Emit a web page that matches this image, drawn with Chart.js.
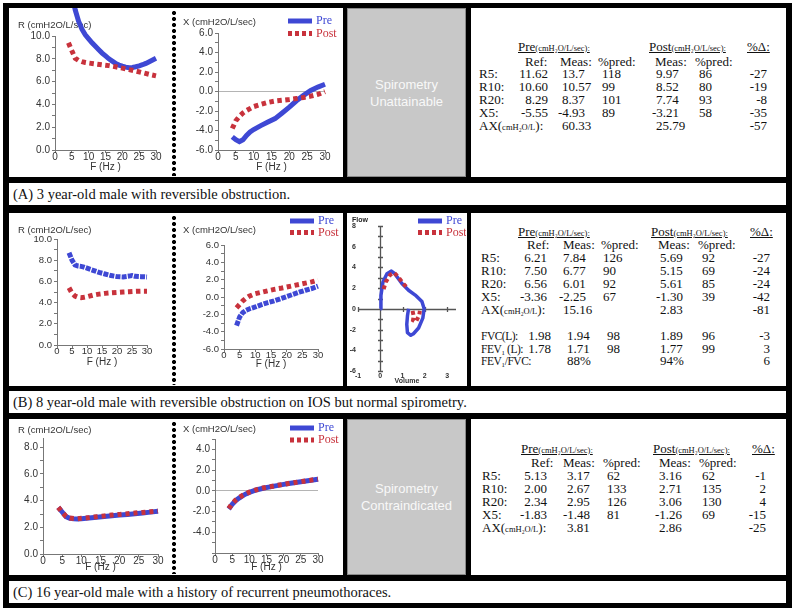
<!DOCTYPE html>
<html><head><meta charset="utf-8">
<script src="https://cdn.jsdelivr.net/npm/chart.js@4.4.1/dist/chart.umd.min.js"></script>
<style>
html,body{margin:0;padding:0;background:#fff;}
#root{position:relative;width:795px;height:614px;overflow:hidden;background:#fff;}
.bx{position:absolute;}
.blk{background:#000;}
.wh{background:#fff;}
.gray{background:#c8c8c8;box-shadow:inset 0 0 0 1px #8a8a8a;color:#f8f8f8;font-family:"Liberation Sans",Arial,sans-serif;font-size:13px;display:flex;align-items:center;justify-content:center;text-align:center;line-height:17px;}
.dots{position:absolute;width:6px;background-image:radial-gradient(circle at 3px 3px,#000 1.8px,rgba(0,0,0,0) 2.3px);background-size:6px 6px;background-repeat:repeat-y;}
canvas{position:absolute;}
.cap{position:absolute;font-family:"Liberation Serif",serif;font-size:14.5px;color:#111;white-space:nowrap;padding-left:4px;box-sizing:border-box;}
.tt{position:absolute;font-family:"Liberation Serif",serif;font-size:13px;color:#111;white-space:nowrap;line-height:14px;height:14px;}
.nar{font-size:11.5px;letter-spacing:-0.5px;}
.sm{font-size:8.5px;}
.u{text-decoration:underline;}
</style></head>
<body><div id="root"></div>
<script>
// ---------------- DATA ----------------
// Panel A (3 year-old)
const A_R_pre_F = [5,6,7,8,9,10,11,12,13,14,15,16,17,18,19,20,21,22,23,24,25,26,27,28,29,30];
const A_R_pre   = [13.7,12.3,11.3,10.6,10.1,9.75,9.4,9.1,8.8,8.5,8.25,8.0,7.8,7.6,7.45,7.35,7.27,7.22,7.24,7.3,7.38,7.48,7.6,7.75,7.9,8.05];
const A_R_post_F = [4,5,6,7,8,9,10,12,14,16,18,20,22,24,26,28,30];
const A_R_post   = [9.4,8.7,8.05,7.85,7.75,7.68,7.63,7.55,7.47,7.4,7.3,7.18,7.05,6.92,6.78,6.63,6.5];
const A_X_pre_F = [4,5,6,7,8,9,10,12,14,16,18,20,22,24,26,28,30];
const A_X_pre   = [-4.65,-4.95,-5.15,-4.95,-4.5,-4.15,-3.9,-3.5,-3.13,-2.78,-2.2,-1.6,-0.95,-0.4,0.1,0.45,0.74];
const A_X_post_F = [4,5,6,7,8,10,12,14,16,18,20,22,24,26,28,30];
const A_X_post   = [-3.8,-3.0,-2.55,-2.2,-1.95,-1.55,-1.33,-1.12,-0.98,-0.9,-0.82,-0.72,-0.62,-0.48,-0.3,-0.02];
// Panel B (8 year-old)
const B_R_pre_F = [4,5,6,7,8,9,10,12,14,16,18,20,22,24,25,26,28,30];
const B_R_pre   = [8.7,8.0,7.55,7.45,7.42,7.35,7.25,7.05,6.85,6.7,6.55,6.45,6.42,6.5,6.55,6.48,6.45,6.42];
const B_R_post_F = [4,5,6,7,8,9,10,12,14,16,18,20,22,24,26,28,30];
const B_R_post   = [5.4,4.9,4.62,4.5,4.47,4.5,4.55,4.7,4.8,4.87,4.92,4.96,5.0,5.03,5.06,5.08,5.08];
const B_X_pre_F = [4,5,6,7,8,10,12,14,16,18,20,22,24,26,28,30];
const B_X_pre   = [-3.3,-2.3,-1.8,-1.55,-1.38,-1.15,-0.88,-0.65,-0.45,-0.2,0.05,0.3,0.55,0.78,0.98,1.25];
const B_X_post_F = [4,5,6,7,8,10,12,14,16,18,20,22,24,26,28,30];
const B_X_post   = [-1.25,-0.85,-0.45,-0.15,0.08,0.38,0.55,0.72,0.88,1.0,1.15,1.3,1.45,1.6,1.75,1.95];
// Flow-volume loop (panel B)
const FV_pre_vol  = [0,0.03,0.12,0.3,0.5,0.65,0.97,1.27,1.57,1.87,1.97,1.91,1.72,1.49,1.37,1.22,1.19,1.22,1.27];
const FV_pre_flow = [0,1.3,2.6,3.4,3.65,3.4,2.45,1.8,1.33,0.7,0,-0.9,-1.85,-2.4,-2.55,-2.3,-1.5,-0.7,0];
const FV_post_exp_vol  = [0.15,0.25,0.45,0.62,0.8,1.05,1.2];
const FV_post_exp_flow = [1.9,2.6,3.3,3.5,3.1,2.4,2.05];
const FV_post_insp_vol  = [1.45,1.5,1.47,1.6,1.75,1.78];
const FV_post_insp_flow = [-0.2,-0.7,-1.1,-1.25,-0.6,-0.2];
// Panel C (16 year-old)
const C_F = [4,5,6,7,8,9,10,12,14,16,18,20,22,24,26,28,30];
const C_R_pre  = [3.5,3.15,2.8,2.68,2.64,2.63,2.65,2.7,2.76,2.82,2.87,2.92,2.97,3.02,3.08,3.14,3.2];
const C_R_post = [3.5,3.14,2.82,2.7,2.66,2.65,2.68,2.73,2.8,2.86,2.92,2.97,3.02,3.07,3.12,3.17,3.22];
const C_X_pre  = [-1.75,-1.3,-0.95,-0.7,-0.48,-0.3,-0.15,0.08,0.25,0.38,0.5,0.62,0.73,0.83,0.92,1.02,1.12];
const C_X_post = [-1.7,-1.25,-0.9,-0.65,-0.45,-0.28,-0.13,0.1,0.27,0.4,0.52,0.63,0.74,0.84,0.93,1.03,1.13];
// Tick values
const F_TICKS = [0,5,10,15,20,25,30];
const R_TICKS = [0,1,2,3,4,5,6,7,8,9,10];
const X_TICKS = [-6,-5,-4,-3,-2,-1,0,1,2,3,4,5,6];
const C_R_TICKS = [0,1,2,3,4,5,6,7,8];
const C_X_TICKS = [-6,-5,-4,-3,-2,-1,0,1,2,3,4,5];
const VOL_TICKS = [-1,0,1,2,3];
const FLOW_TICKS = [-6,-4,-2,0,2,4,6,8];
// Tables
const TABLE_A = [
  ['R5:','11.62','13.7','118','9.97','86','-27'],
  ['R10:','10.60','10.57','99','8.52','80','-19'],
  ['R20:','8.29','8.37','101','7.74','93','-8'],
  ['X5:','-5.55','-4.93','89','-3.21','58','-35'],
  ['AX','','60.33','','25.79','','-57']
];
const TABLE_B = [
  ['R5:','6.21','7.84','126','5.69','92','-27'],
  ['R10:','7.50','6.77','90','5.15','69','-24'],
  ['R20:','6.56','6.01','92','5.61','85','-24'],
  ['X5:','-3.36','-2.25','67','-1.30','39','-42'],
  ['AX','','15.16','','2.83','','-81'],
  ['FVC(L):','1.98','1.94','98','1.89','96','-3'],
  ['FEV₁ (L):','1.78','1.71','98','1.77','99','3'],
  ['FEV₁/FVC:','','88%','','94%','','6']
];
const TABLE_C = [
  ['R5:','5.13','3.17','62','3.16','62','-1'],
  ['R10:','2.00','2.67','133','2.71','135','2'],
  ['R20:','2.34','2.95','126','3.06','130','4'],
  ['X5:','-1.83','-1.48','81','-1.26','69','-15'],
  ['AX','','3.81','','2.86','','-25']
];
const CAPTIONS = [
  '(A) 3 year-old male with reversible obstruction.',
  '(B) 8 year-old male with reversible obstruction on IOS but normal spirometry.',
  '(C) 16 year-old male with a history of recurrent pneumothoraces.'
];

// ---------------- LAYOUT ----------------
const root = document.getElementById('root');
function div(cls, l, t, w, h, html) {
  const d = document.createElement('div');
  d.className = cls;
  Object.assign(d.style, {left:l+'px', top:t+'px', width:w+'px', height:h+'px'});
  if (html !== undefined) d.innerHTML = html;
  root.appendChild(d);
  return d;
}
div('bx blk', 3, 3, 789, 605);
const PANELS = [{t:8,h:169},{t:213,h:173},{t:419,h:156}];
const CAPS = [{t:183,h:22},{t:391,h:22},{t:581,h:22}];
PANELS.forEach((p,i) => {
  div('bx wh', 9, p.t, 334, p.h);
  if (i === 1) div('bx wh', 347, p.t, 120, p.h);
  else div('bx gray', 347, p.t, 119, p.h, i === 0 ? 'Spirometry<br>Unattainable' : 'Spirometry<br>Contraindicated');
  div('bx wh', 471, p.t, 315, p.h);
  div('dots', 171, p.t + 2, 6, p.h - 3);
});
CAPS.forEach((c,i) => {
  div('bx wh', 9, c.t, 777, c.h);
  const s = div('cap', 9, c.t, 777, c.h, CAPTIONS[i]);
  s.style.lineHeight = c.h + 'px';
});

// ---------------- TABLES ----------------
function tt(x, y, html, align, cls) {
  const d = document.createElement('div');
  d.className = 'tt' + (cls ? ' ' + cls : '');
  d.innerHTML = html;
  d.style.top = (y - 7) + 'px';
  if (align === 'r') d.style.right = (795 - x) + 'px';
  else d.style.left = x + 'px';
  root.appendChild(d);
}
function neg(x, v) { return v.charAt(0) === '-' ? x - 4 : x; }
function buildTable(T, c) {
  tt(c.hPre, c.yHead, '<span class="u">Pre<span class="sm">(cmH₂O/L/sec):</span></span>');
  tt(c.hPost, c.yHead, '<span class="u">Post<span class="sm">(cmH₂O/L/sec):</span></span>');
  tt(c.hD, c.yHead, '<span class="u">%Δ:</span>');
  tt(c.sRef, c.ySub, 'Ref:'); tt(c.sMeas, c.ySub, 'Meas:'); tt(c.sPred, c.ySub, '%pred:');
  tt(c.sPMeas, c.ySub, 'Meas:'); tt(c.sPPred, c.ySub, '%pred:');
  T.forEach((r, i) => {
    const y = c.rows[i];
    const sh = (c.shift && c.shift[i]) || 0;
    const lab = r[0] === 'AX' ? 'AX(<span class="sm">cmH₂O/L</span>):' : r[0];
    tt(c.lab, y, lab, 'l', sh ? 'nar' : '');
    if (r[1]) tt(c.refR + (sh ? 4 : 0), y, r[1], 'r');
    if (r[2]) tt(neg(c.meas + sh, r[2]), y, r[2]);
    if (r[3]) tt(c.pred + sh, y, r[3]);
    if (r[4]) tt(neg(c.pmeas, r[4]), y, r[4]);
    if (r[5]) tt(c.ppred, y, r[5]);
    if (r[6]) tt(c.dR, y, r[6], 'r');
  });
}
buildTable(TABLE_A, {yHead:47, ySub:61.5, rows:[73.5,86.5,99.5,112.5,125.5],
  lab:479, refR:548, meas:562, pred:602, pmeas:656, ppred:699, dR:767,
  hPre:518, hPost:649, hD:747, sRef:525, sMeas:560, sPred:598, sPMeas:655, sPPred:695});
buildTable(TABLE_B, {yHead:231.5, ySub:245, rows:[258,271,284,297,309.5,336,348.5,361], shift:[0,0,0,0,0,4,4,4],
  lab:481, refR:547, meas:563, pred:603, pmeas:660, ppred:702, dR:770,
  hPre:518, hPost:651, hD:750, sRef:527, sMeas:563, sPred:601, sPMeas:658, sPPred:698});
buildTable(TABLE_C, {yHead:449, ySub:463, rows:[476,489,502,514.5,527.5],
  lab:482, refR:547, meas:567, pred:607, pmeas:659, ppred:702, dR:766,
  hPre:521, hPost:653, hD:752, sRef:531, sMeas:563, sPred:603, sPMeas:659, sPPred:699});

// ---------------- CHARTS ----------------
const BLUE = 'rgb(62,72,212)';
const RED = 'rgb(200,50,60)';
const extrasPlugin = {
  id: 'extras',
  beforeDatasetsDraw(chart, args, o) {
    const ctx = chart.ctx;
    if (o.cross) {
      const xs = chart.scales.x, ys = chart.scales.y, a = chart.chartArea;
      const x0 = Math.round(xs.getPixelForValue(0)) + 0.5, y0 = Math.round(ys.getPixelForValue(0)) + 0.5;
      ctx.save(); ctx.strokeStyle = '#555'; ctx.lineWidth = 1.3;
      ctx.beginPath();
      ctx.moveTo(a.left, y0); ctx.lineTo(a.right, y0);
      ctx.moveTo(x0, a.top); ctx.lineTo(x0, a.bottom);
      o.cross.xTicks.forEach(v => { const p = Math.round(xs.getPixelForValue(v)) + 0.5; ctx.moveTo(p, y0 - 2.5); ctx.lineTo(p, y0 + 2.5); });
      o.cross.yTicks.forEach(v => { const p = Math.round(ys.getPixelForValue(v)) + 0.5; ctx.moveTo(x0 - 2.5, p); ctx.lineTo(x0 + 2.5, p); });
      ctx.stroke(); ctx.restore();
    }
    (o.texts || []).forEach(t => {
      ctx.save(); ctx.font = t.font; ctx.fillStyle = t.color || '#333';
      ctx.textBaseline = 'middle'; ctx.textAlign = 'left';
      ctx.fillText(t.text, t.x, t.y); ctx.restore();
    });
  },
  afterDatasetsDraw(chart, args, o) {
    if (!o.legend) return;
    const L = o.legend, ctx = chart.ctx;
    let k = 0;
    chart.data.datasets.forEach(ds => {
      if (ds.noLegend) return;
      const y = L.y + k * L.dy; k++;
      ctx.save();
      ctx.strokeStyle = ds.borderColor; ctx.lineWidth = L.lw; ctx.lineCap = 'butt';
      ctx.setLineDash(ds.legendDash || []);
      ctx.beginPath(); ctx.moveTo(L.x, y); ctx.lineTo(L.x + L.len, y); ctx.stroke();
      ctx.setLineDash([]);
      ctx.font = L.font; ctx.fillStyle = ds.borderColor; ctx.textBaseline = 'middle';
      ctx.fillText(ds.label, L.x + L.len + L.gap, y);
      ctx.restore();
    });
  }
};
function series(label, F, V, color, width, dash, order, extra) {
  return Object.assign({
    label, data: F.map((f, i) => ({x: f, y: V[i]})),
    showLine: true, pointRadius: 0, borderColor: color, backgroundColor: color,
    borderWidth: width, borderDash: dash, borderCapStyle: 'butt', borderJoinStyle: 'miter',
    tension: 0, clip: false, order, legendDash: (label === 'Post') ? [4, 3] : []
  }, extra || {});
}
function chart(c) {
  const cv = document.createElement('canvas');
  cv.width = c.w; cv.height = c.h;
  Object.assign(cv.style, {left:c.left+'px', top:c.top+'px', width:c.w+'px', height:c.h+'px'});
  root.appendChild(cv);
  const yW = c.area.l - c.left, padTop = c.area.t - c.top, padR = c.left + c.w - c.area.r, xH = c.top + c.h - c.area.b;
  const hide = !!c.hideAxes;
  new Chart(cv, {
    type: 'scatter',
    data: {datasets: c.datasets},
    options: {
      responsive: false, animation: false, devicePixelRatio: 1, events: [],
      layout: {padding: {top: padTop, right: padR, left: 0, bottom: 0}},
      plugins: {legend: {display: false}, tooltip: {enabled: false}, extras: c.extras},
      scales: {
        x: {type: 'linear', position: 'bottom', min: c.xMin, max: c.xMax,
          afterFit: s => { s.height = xH; },
          afterBuildTicks: s => { s.ticks = c.xTicks.map(v => ({value: v})); },
          ticks: {autoSkip: false, maxRotation: 0, padding: c.xTickPad, font: c.tickFont, color: '#333'},
          grid: {display: !hide, drawOnChartArea: false, drawTicks: !hide, tickLength: 3, color: '#777'},
          border: {display: !hide, color: '#777'},
          title: {display: true, text: c.xTitle, font: c.xTitleFont, color: '#333', padding: {top: 0, bottom: c.xTitlePadB}}
        },
        y: {type: 'linear', position: 'left', min: c.yMin, max: c.yMax,
          afterFit: s => { s.width = yW; },
          afterBuildTicks: s => { s.ticks = c.yTicks.map(v => ({value: v})); },
          ticks: {autoSkip: false, padding: 2, font: c.tickFont, color: '#333', callback: c.yLabel},
          grid: {display: !hide, drawOnChartArea: !!c.zero, drawTicks: !hide,
            color: ctx => (c.zero && ctx.tick && Math.abs(ctx.tick.value) < 1e-9) ? '#b4b4b4' : 'rgba(0,0,0,0)',
            tickColor: '#777', tickLength: 3},
          border: {display: !hide, color: '#777'}
        }
      }
    },
    plugins: [extrasPlugin]
  });
}
const evenLabel = v => (Math.abs(v % 2) < 1e-9 ? v.toFixed(1) : '');
const cLabelX = v => (Math.abs(v % 2) < 1e-9 && v > -5 ? v.toFixed(1) : '');
const SANS = '"Liberation Sans", Arial, sans-serif';
const tickA = {family: SANS, size: 10};
const ttlA = {family: SANS, size: 10};
const legFont = '12px "Liberation Serif", serif';
const yTitleFont = '9.5px ' + SANS;

// Panel A
chart({left:10, top:8, w:162, h:169, area:{l:55, t:36, r:156, b:150},
  xMin:0, xMax:30, xTicks:F_TICKS, yMin:0, yMax:10, yTicks:R_TICKS, yLabel:evenLabel,
  tickFont:tickA, xTickPad:-2, xTitle:'F (Hz )', xTitleFont:ttlA, xTitlePadB:4,
  datasets:[series('Pre', A_R_pre_F, A_R_pre, BLUE, 5, [], 2), series('Post', A_R_post_F, A_R_post, RED, 5, [4.5,3.5], 1)],
  extras:{texts:[{text:'R (cmH2O/L/sec)', x:8, y:17, font:yTitleFont}]}});
chart({left:177, top:8, w:166, h:169, area:{l:218, t:33, r:325, b:150},
  xMin:0, xMax:30, xTicks:F_TICKS, yMin:-6, yMax:6, yTicks:X_TICKS, yLabel:evenLabel, zero:true,
  tickFont:tickA, xTickPad:-2, xTitle:'F (Hz )', xTitleFont:ttlA, xTitlePadB:4,
  datasets:[series('Pre', A_X_pre_F, A_X_pre, BLUE, 5, [], 2), series('Post', A_X_post_F, A_X_post, RED, 5, [4.5,3.5], 1)],
  extras:{texts:[{text:'X (cmH2O/L/sec)', x:6, y:14, font:yTitleFont}],
    legend:{x:111, y:13, dy:12.5, len:24, gap:4, lw:5, font:legFont}}});

// Panel B
const tickB = {family: SANS, size: 9.5};
chart({left:10, top:213, w:162, h:173, area:{l:57, t:239, r:147, b:345},
  xMin:0, xMax:30, xTicks:F_TICKS, yMin:0, yMax:10, yTicks:R_TICKS, yLabel:evenLabel,
  tickFont:tickB, xTickPad:-2, xTitle:'F (Hz )', xTitleFont:ttlA, xTitlePadB:18,
  datasets:[series('Pre', B_R_pre_F, B_R_pre, BLUE, 5, [5,1.2], 2), series('Post', B_R_post_F, B_R_post, RED, 5, [4.5,3.5], 1)],
  extras:{texts:[{text:'R (cmH2O/L/sec)', x:8, y:17, font:yTitleFont}]}});
chart({left:177, top:213, w:166, h:173, area:{l:224, t:245, r:318, b:349},
  xMin:0, xMax:30, xTicks:F_TICKS, yMin:-6, yMax:6, yTicks:X_TICKS, yLabel:evenLabel,
  tickFont:tickB, xTickPad:-2, xTitle:'F (Hz )', xTitleFont:ttlA, xTitlePadB:16,
  datasets:[series('Pre', B_X_pre_F, B_X_pre, BLUE, 5, [5,1.2], 2), series('Post', B_X_post_F, B_X_post, RED, 5, [4.5,3.5], 1)],
  extras:{texts:[{text:'X (cmH2O/L/sec)', x:6, y:17, font:yTitleFont}],
    legend:{x:113, y:8, dy:11.5, len:24, gap:4, lw:5, font:legFont}}});
const boldSmall = {family: SANS, size: 7, weight: 'bold'};
chart({left:348, top:213, w:118, h:173, area:{l:358, t:226, r:456, b:371},
  xMin:-1, xMax:3.4, xTicks:VOL_TICKS, yMin:-6, yMax:8, yTicks:FLOW_TICKS, yLabel:v => String(v), hideAxes:true,
  tickFont:boldSmall, xTickPad:1, xTitle:'Volume', xTitleFont:boldSmall, xTitlePadB:1,
  datasets:[
    series('Pre', FV_pre_vol, FV_pre_flow, BLUE, 3.5, [], 2, {borderJoinStyle:'round'}),
    series('Post', FV_post_exp_vol, FV_post_exp_flow, RED, 4, [4,3], 1),
    series('Post', FV_post_insp_vol, FV_post_insp_flow, RED, 4, [4,3], 1, {noLegend:true})],
  extras:{texts:[{text:'Flow', x:4, y:7, font:'bold 7px ' + SANS, color:'#222'}],
    cross:{xTicks:[-1,1,2,3], yTicks:[-6,-5,-4,-3,-2,-1,1,2,3,4,5,6,7,8]},
    legend:{x:70, y:8, dy:11.5, len:24, gap:4, lw:5, font:legFont}}});

// Panel C
chart({left:10, top:419, w:162, h:156, area:{l:43, t:438, r:158, b:554},
  xMin:0, xMax:30, xTicks:F_TICKS, yMin:0, yMax:8.7, yTicks:C_R_TICKS, yLabel:evenLabel,
  tickFont:tickA, xTickPad:-2, xTitle:'F (Hz )', xTitleFont:ttlA, xTitlePadB:2,
  datasets:[series('Pre', C_F, C_R_pre, BLUE, 5, [], 2), series('Post', C_F, C_R_post, RED, 5, [4,4], 1)],
  extras:{texts:[{text:'R (cmH2O/L/sec)', x:8, y:11, font:yTitleFont}]}});
chart({left:177, top:419, w:166, h:156, area:{l:215, t:439, r:318, b:553},
  xMin:0, xMax:30, xTicks:F_TICKS, yMin:-6, yMax:5, yTicks:C_X_TICKS, yLabel:cLabelX, zero:true,
  tickFont:tickA, xTickPad:-2, xTitle:'F (Hz )', xTitleFont:ttlA, xTitlePadB:2,
  datasets:[series('Pre', C_F, C_X_pre, BLUE, 5, [], 2), series('Post', C_F, C_X_post, RED, 5, [4,4], 1)],
  extras:{texts:[{text:'X (cmH2O/L/sec)', x:6, y:10, font:yTitleFont}],
    legend:{x:113, y:9, dy:12, len:24, gap:4, lw:5, font:legFont}}});
</script>
</body></html>
